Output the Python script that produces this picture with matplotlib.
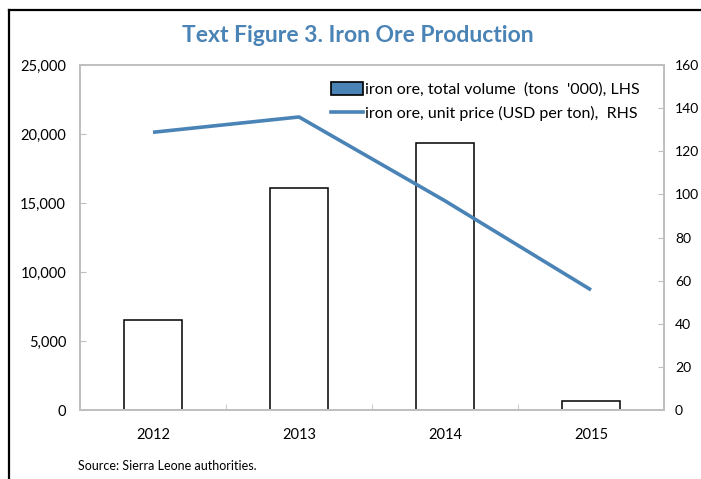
import matplotlib
matplotlib.use("Agg")
import matplotlib.pyplot as plt
from matplotlib.patches import Patch
from matplotlib.lines import Line2D
from matplotlib.ticker import FuncFormatter

years = ["2012", "2013", "2014", "2015"]
volume = [6530, 16120, 19360, 680]      # tons '000, LHS
price = [128.8, 135.9, 97.0, 55.7]      # USD per ton, RHS

BLUE = "#4a83b5"
GREY = "#bfbfbf"
plt.rcParams["font.family"] = ["Lato", "DejaVu Sans"]

fig = plt.figure(figsize=(7.01, 4.79), dpi=100)
ax = fig.add_axes([80 / 701, 69 / 479, 584 / 701, 345 / 479])
ax2 = ax.twinx()

x = list(range(len(years)))
ax.bar(x, volume, width=0.4, color="white", edgecolor="black", linewidth=1.1, zorder=2)
ax2.plot(x, price, color=BLUE, linewidth=2.6, solid_capstyle="butt")

ax.set_xlim(-0.5, 3.5)
ax.set_ylim(0, 25000)
ax.set_yticks(range(0, 25001, 5000))
ax.yaxis.set_major_formatter(FuncFormatter(lambda v, p: f"{int(v):,}"))
ax2.set_ylim(0, 160)
ax2.set_yticks(range(0, 161, 20))

ax.set_xticks(x)
ax.set_xticklabels(years)
ax.set_xticks([0.5, 1.5, 2.5], minor=True)
ax.tick_params(axis="x", which="major", length=0, pad=13, labelsize=10.5)
ax.tick_params(axis="x", which="minor", length=4, direction="in", color=GREY)
ax.tick_params(axis="y", length=4, direction="in", color=GREY, labelsize=10.5, pad=10)
ax2.tick_params(axis="y", length=4, direction="in", color=GREY, labelsize=10, pad=8)

for a in (ax, ax2):
    for s in a.spines.values():
        s.set_color(GREY)
        s.set_linewidth(1.2)

handles = [
    Patch(facecolor=BLUE, edgecolor="black", linewidth=1.2),
    Line2D([0], [0], color=BLUE, linewidth=2.6),
]
labels = [
    "iron ore, total volume  (tons  '000), LHS",
    "iron ore, unit price (USD per ton),  RHS",
]
fig.legend(handles, labels, loc="upper right", bbox_to_anchor=(646 / 701, 1 - 76 / 479),
           frameon=False, fontsize=11.5, handlelength=2.0, handleheight=0.8,
           handletextpad=0.1, labelspacing=0.55, borderaxespad=0)

fig.text(358 / 701, 1 - 35 / 479, "Text Figure 3. Iron Ore Production", ha="center", va="center",
         fontsize=16.5, fontweight="bold", color=BLUE)
fig.text(78 / 701, 1 - 466 / 479, "Source: Sierra Leone authorities.", ha="left", va="center",
         fontsize=9)

# outer frame (top and left edges)
fig.add_artist(Line2D([9 / 701, 1], [1 - 10 / 479, 1 - 10 / 479], color="black", linewidth=1.6))
fig.add_artist(Line2D([9 / 701, 9 / 701], [0, 1 - 10 / 479], color="black", linewidth=1.6))

fig.savefig("out.png", dpi=100)
